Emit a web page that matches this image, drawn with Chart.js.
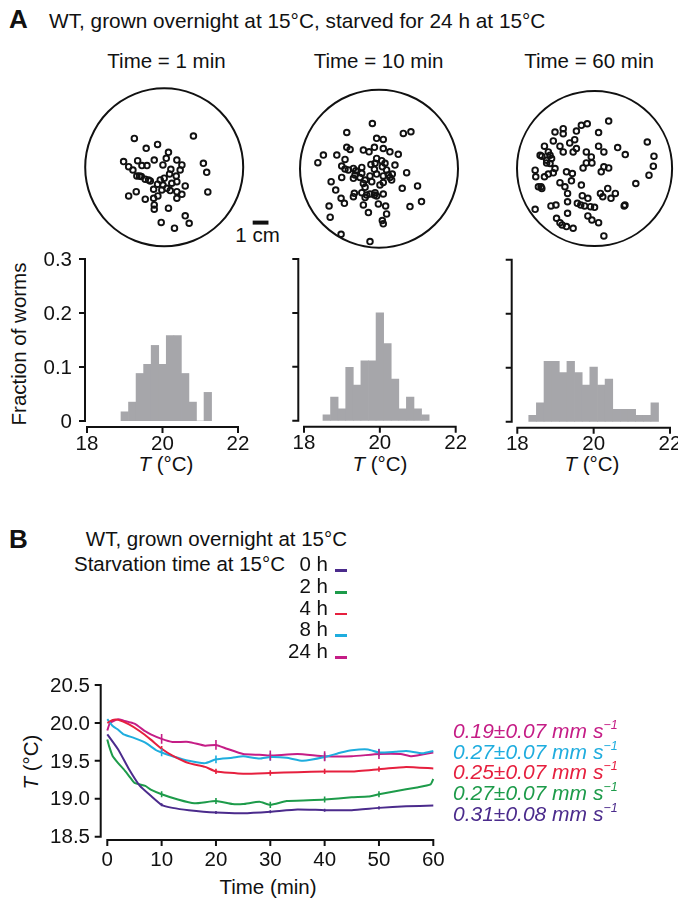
<!DOCTYPE html>
<html>
<head>
<meta charset="utf-8">
<script src="https://cdn.jsdelivr.net/npm/chart.js@4.4.1/dist/chart.umd.min.js"></script>
<style>
body { margin: 0; background: #fff; }
#page { position: relative; width: 678px; height: 901px; overflow: hidden;
        font-family: "Liberation Sans", Arial, Helvetica, sans-serif; color: #111; }
#page canvas { position: absolute; left: 0; top: 0; }
.t { position: absolute; font-size: 20.5px; line-height: 1; white-space: nowrap; }
.c { transform: translate(-50%, -50%); }
.r { transform: translate(-100%, -50%); }
.l { transform: translate(0, -50%); }
.big { font-size: 26px; font-weight: bold; }
.rot { transform: translate(-50%, -50%) rotate(-90deg); }
.sup { font-size: 12.5px; position: relative; top: -9px; }
</style>
</head>
<body>
<div id="page">
  <div class="t l big" style="left:9px;top:19px">A</div>
  <div class="t l" style="left:49px;top:21px;font-size:20.8px">WT, grown overnight at 15°C, starved for 24 h at 15°C</div>
  <div class="t c" style="left:166.5px;top:60.5px">Time = 1 min</div>
  <div class="t c" style="left:378.5px;top:60.5px">Time = 10 min</div>
  <div class="t c" style="left:589px;top:60.5px">Time = 60 min</div>
  <div class="t c" style="left:257.5px;top:234.5px">1 cm</div>
  <div class="t rot" style="left:19px;top:344px">Fraction of worms</div>
  <div class="t c" style="left:166px;top:464px"><i>T</i> (°C)</div>
  <div class="t c" style="left:380px;top:464px"><i>T</i> (°C)</div>
  <div class="t c" style="left:592px;top:464px"><i>T</i> (°C)</div>

  <div class="t l big" style="left:9px;top:538.5px">B</div>
  <div class="t r" style="left:347px;top:539px">WT, grown overnight at 15°C</div>
  <div class="t r" style="left:285px;top:564px">Starvation time at 15°C</div>
  <div class="t c" style="left:268px;top:887px">Time (min)</div>
  <div class="t rot" style="left:31px;top:762px"><i>T</i> (°C)</div>
</div>
<script>
const W = 678, H = 901;
const FONT = '"Liberation Sans", Arial, Helvetica, sans-serif';

// ---- panel A: worm positions on the plate (mm from plate centre) ----
const plateRadius = 50;
const scaleBarMm = 10;

const x1min = [-18.9,18.5,-11.4,-4.2,2.7,-25.7,-22.5,-19.8,-16.8,-14.1,-10.9,-6.3,-0.8,1.3,8.0,11.2,4.2,10.1,24.8,26.9,
  -17.3,-14.5,-12.0,-8.8,-2.5,0,3.4,7.6,4.8,8.0,13.3,-6.7,-1.5,3.8,8.0,11.2,27.6,-22.5,-17.7,-12.0,
  -6.7,-4.0,8.0,-6.3,-6.3,2.7,13.3,-1.9,6.5,15.8,-0.8,-4.2,1.7,-9.9,-15.6];
const y1min = [18.3,19.8,12.0,14.5,9.5,3.6,0.4,-1.7,4.2,1.1,1.1,4.6,1.5,5.7,4.6,1.5,-1.3,-1.7,2.5,-3.2,
  -5.5,-5.9,-7.6,-8.6,-8.0,-6.9,-4.2,-5.5,-10.1,-9.1,-11.8,-13.9,-14.3,-14.7,-15.4,-17.1,-15.6,-18.1,-15.4,-20.2,
  -19.6,-18.1,-19.6,-23.8,-26.5,-25.9,-30.7,-34.9,-38.5,-35.4,-11.2,-10.7,-13.3,-8.0,-5.5];

const x10min = [-4.2,-20.4,15.4,20.2,-1.5,2.7,-20.4,-18.3,-9.9,-6.3,-2.9,2.7,6.9,12.2,-35.2,-38.7,-26.7,-21.5,-1.5,1.7,
  -2.5,-5.1,-23.6,-21.5,-16.2,-14.7,-10.9,-2.9,2.1,4.8,10.1,17.5,-23.6,-16.2,-12.0,-8.8,-5.7,-1.5,2.7,6.9,
  8.4,-30.3,-9.9,-4.6,2.7,8.0,-27.4,-8.8,14.7,24.4,-15.6,-10.9,-5.7,-2.5,2.7,-24.0,-16.2,-8.8,-1.5,-31.6,
  -21.9,-9.9,-0.4,4.2,19.6,26.9,-6.7,4.8,-30.9,2.1,2.7,-24.0,-5.7,-2.9,-7.8,-15.2,-10.9,0.6,5.9,-19.4,3.8];
const y10min = [28.6,22.9,22.3,23.4,19.2,18.5,13.5,12.2,11.8,10.7,13.5,12.8,10.7,9.1,8.6,3.8,8.6,5.9,6.5,5.1,
  3.4,2.7,1.7,-0.2,0.2,-1.3,0.8,-0.4,1.3,-0.8,2.3,-2.5,-5.5,-6.1,-5.5,-7.2,-4.6,-3.4,-4.6,-5.5,
  -3.4,-8.2,-9.3,-8.2,-8.8,-7.2,-13.5,-11.8,-12.4,-10.9,-15.6,-15.2,-16.0,-15.2,-16.0,-18.7,-17.7,-18.3,-17.3,-23.6,
  -21.9,-22.9,-22.3,-23.6,-24.0,-20.8,-27.8,-28.6,-30.7,-32.8,-34.9,-41.5,-46.1,-16.6,-16.6,-4.0,-2.9,-10.3,-4.0,-0.8,3.4];

const x60min = [9.1,-8.5,-4.7,-25.5,-20.2,-20.2,-11.7,2.6,-26.6,-16.0,-12.8,-32.3,-22.3,-11.7,-20.2,-13.8,-5.3,2.6,14.9,6.0,
  19.8,34.0,38.3,37.9,35.1,-35.1,-29.8,-27.7,-30.9,-2.1,-5.3,-1.7,-7.4,6.0,9.1,4.3,-38.3,-37.9,-32.3,-29.8,
  -25.5,-26.6,-18.1,-14.3,-14.9,-22.3,-19.1,-8.5,-34.5,-34.0,-17.4,-7.9,-4.3,3.8,5.3,8.5,10.6,13.4,26.6,-17.4,
  -28.1,-24.9,-11.1,-8.9,-6.4,-2.6,0,-38.3,-17.4,-4.3,-1.7,2.6,-24.5,-22.3,-20.9,-18.1,-13.8,6.0,19.1,19.6,
  -30.9,-28.7,-34.0,-36.2,-28.7];
const y60min = [30.4,27.7,28.7,23.4,25.5,22.3,24.0,23.0,17.7,16.4,18.5,14.3,14.3,12.8,10.6,10.6,10.6,14.3,13.4,10.6,
  8.9,17.0,7.9,1.5,-4.3,8.5,10.6,6.4,3.6,7.4,3.6,3.6,0.4,1.1,0.4,-2.1,-1.1,-5.3,-5.3,-3.6,
  0,-2.8,-2.1,-3.2,-7.9,-9.1,-11.7,-10.6,-11.7,-12.8,-16.0,-17.4,-19.1,-16.0,-18.1,-12.8,-19.1,-16.0,-9.6,-21.3,
  -24.0,-23.4,-22.3,-23.4,-24.0,-24.5,-24.9,-26.2,-28.7,-30.4,-33.0,-34.7,-31.9,-34.7,-36.2,-37.2,-38.3,-43.2,-24.0,-23.4,
  5.3,3.2,7.9,-11.7,8.5];

// ---- panel A histograms: bin centres (°C, 0.2 wide) and fraction of worms ----
const bins1 = [19.0,19.2,19.4,19.6,19.8,20.0,20.2,20.4,20.6,20.8,21.0,21.2];
const frac1 = [0.017,0.035,0.088,0.105,0.14,0.105,0.158,0.158,0.088,0.035,0,0.053];
const bins10 = [18.6,18.8,19.0,19.2,19.4,19.6,19.8,20.0,20.2,20.4,20.6,20.8,21.0,21.2];
const frac10 = [0.011,0.044,0.022,0.099,0.066,0.111,0.111,0.2,0.143,0.077,0.022,0.044,0.022,0.011];
const bins60 = [18.4,18.6,18.8,19.0,19.2,19.4,19.6,19.8,20.0,20.2,20.4,20.6,20.8,21.0,21.2,21.4,21.6];
const frac60 = [0.012,0.035,0.112,0.112,0.091,0.112,0.091,0.068,0.101,0.068,0.079,0.023,0.023,0.023,0.012,0.012,0.035];
const histXTicks = [18, 20, 22];
const histYTicks = [0, 0.1, 0.2, 0.3];
const histYLabels = ['0', '0.1', '0.2', '0.3'];

// ---- panel B: mean temperature vs time for each starvation time ----
const t0h = [0,2,4,6,8,10,12,15,20,25,30,35,40,45,50,55,60];
const T0h = [19.85,19.65,19.39,19.17,19.04,18.92,18.88,18.85,18.82,18.81,18.83,18.86,18.85,18.85,18.88,18.90,18.91];
const t2h = [0,0.3,1,2,3,4,5,7,8,10,13,16,20,23,25,28,30,33,37,40,45,48,50,53,57,59.5,60];
const T2h = [19.78,19.7,19.56,19.47,19.39,19.30,19.21,19.17,19.12,19.06,18.99,18.94,18.97,18.93,18.93,18.96,18.92,18.97,18.98,18.99,19.02,19.03,19.06,19.10,19.15,19.19,19.26];
const t4h = [0,1,2,4,6,8,10,12,15,18,20,25,30,35,40,45,50,55,60];
const T4h = [20.0,20.04,20.04,19.98,19.89,19.78,19.66,19.57,19.47,19.42,19.36,19.33,19.34,19.35,19.36,19.36,19.39,19.42,19.40];
const t8h = [0,1,2,3,5,7,9,10,12,15,18,20,23,25,28,30,33,36,40,43,45,48,50,53,55,58,60];
const T8h = [20.05,19.96,19.91,19.85,19.80,19.74,19.64,19.61,19.56,19.50,19.47,19.52,19.54,19.56,19.53,19.55,19.54,19.50,19.55,19.61,19.64,19.65,19.61,19.62,19.63,19.60,19.63];
const t24h = [0,0.5,2,3,5,7,8,10,12,15,18,20,22,25,28,30,35,40,45,50,54,56,60];
const T24h = [19.9,20.0,20.05,20.03,19.99,19.89,19.85,19.79,19.75,19.75,19.70,19.71,19.66,19.59,19.58,19.57,19.59,19.56,19.56,19.59,19.59,19.56,19.61];

const starvLabels = ['0 h', '2 h', '4 h', '8 h', '24 h'];
const speedLabels = ['0.31±0.08', '0.27±0.07', '0.25±0.07', '0.27±0.07', '0.19±0.07'];
const lineColors = ['#4b2b8c', '#1d9b4a', '#e6203e', '#1fadde', '#c51d86'];
const errTimes = [10, 20, 30, 40, 50];
const errHalf = [0.02, 0.04, 0.035, 0.05, 0.065];
const bXTicks = [0, 10, 20, 30, 40, 50, 60];
const bYTicks = [18.5, 19.0, 19.5, 20.0, 20.5];
const bYLabels = ['18.5', '19.0', '19.5', '20.0', '20.5'];

// ---------------------------------------------------------------
const page = document.getElementById('page');

function addCanvas() {
  const c = document.createElement('canvas');
  c.width = W; c.height = H;
  page.appendChild(c);
  return c;
}

// chart area given as page pixels -> layout padding
function padFor(l, t, r, b) {
  return { left: l, top: t, right: W - r, bottom: H - b };
}

function addText(html, x, y, cls, style) {
  const d = document.createElement('div');
  d.className = 't ' + cls;
  d.style.left = x + 'px';
  d.style.top = y + 'px';
  if (style) Object.assign(d.style, style);
  d.innerHTML = html;
  page.appendChild(d);
}

// detached axes, drawn from the chart's own scales
const gapAxes = {
  id: 'gapAxes',
  afterDraw(chart, args, o) {
    const { ctx, chartArea: a, scales: { x, y } } = chart;
    ctx.save();
    ctx.strokeStyle = '#111';
    ctx.fillStyle = '#111';
    ctx.lineWidth = 2;
    ctx.font = '20.5px ' + FONT;

    const ax = a.left - o.yGap;
    const yTop = y.getPixelForValue(o.yTicks[o.yTicks.length - 1]);
    const yBot = y.getPixelForValue(o.yTicks[0]);
    ctx.beginPath();
    ctx.moveTo(ax, yTop - 1);
    ctx.lineTo(ax, yBot + 1);
    o.yTicks.forEach(v => {
      const p = y.getPixelForValue(v);
      ctx.moveTo(ax, p);
      ctx.lineTo(ax - 6, p);
    });
    ctx.stroke();
    if (o.yLabels) {
      ctx.textAlign = 'right';
      ctx.textBaseline = 'middle';
      o.yTicks.forEach((v, i) => ctx.fillText(o.yLabels[i], ax - o.yLabelGap, y.getPixelForValue(v) + 1));
    }

    const ay = a.bottom + o.xGap;
    const xL = x.getPixelForValue(o.xTicks[0]);
    const xR = x.getPixelForValue(o.xTicks[o.xTicks.length - 1]);
    ctx.beginPath();
    ctx.moveTo(xL - 1, ay);
    ctx.lineTo(xR + 1, ay);
    o.xTicks.forEach(v => {
      const p = x.getPixelForValue(v);
      ctx.moveTo(p, ay);
      ctx.lineTo(p, ay + 6);
    });
    ctx.stroke();
    ctx.textAlign = 'center';
    ctx.textBaseline = 'middle';
    o.xTicks.forEach(v => ctx.fillText(String(v), x.getPixelForValue(v), ay + o.xLabelGap));
    ctx.restore();
  }
};

// plate outline and scale bar
const platePlugin = {
  id: 'plate',
  beforeDatasetsDraw(chart, args, o) {
    const { ctx, scales: { x, y } } = chart;
    const cx = x.getPixelForValue(0), cy = y.getPixelForValue(0);
    const r = x.getPixelForValue(o.radius) - cx;
    ctx.save();
    ctx.strokeStyle = '#111';
    ctx.lineWidth = 2;
    ctx.beginPath();
    ctx.arc(cx, cy, r, 0, Math.PI * 2);
    ctx.stroke();
    if (o.bar) {
      ctx.lineWidth = 4;
      ctx.beginPath();
      ctx.moveTo(x.getPixelForValue(o.bar.x), y.getPixelForValue(o.bar.y));
      ctx.lineTo(x.getPixelForValue(o.bar.x + o.bar.len), y.getPixelForValue(o.bar.y));
      ctx.stroke();
    }
    ctx.restore();
  }
};

// error bars at fixed times
const errPlugin = {
  id: 'errBars',
  afterDatasetsDraw(chart, args, o) {
    const { ctx, scales: { x, y } } = chart;
    ctx.save();
    ctx.lineWidth = 1.6;
    chart.data.datasets.forEach((ds, i) => {
      ctx.strokeStyle = ds.borderColor;
      ctx.beginPath();
      o.times.forEach(t => {
        const pt = ds.data.find(d => d.x === t);
        if (!pt) return;
        const px = x.getPixelForValue(t);
        ctx.moveTo(px, y.getPixelForValue(pt.y + o.half[i]));
        ctx.lineTo(px, y.getPixelForValue(pt.y - o.half[i]));
      });
      ctx.stroke();
    });
    ctx.restore();
  }
};

const common = {
  responsive: false,
  animation: false,
  events: [],
};

// ---- plates ----
const plates = [
  { xs: x1min, ys: y1min, cx: 164.2, cy: 167.3, r: 79, bar: { x: 56, y: -35, len: scaleBarMm } },
  { xs: x10min, ys: y10min, cx: 379, cy: 168.7, r: 79, bar: null },
  { xs: x60min, ys: y60min, cx: 595, cy: 168.5, r: 78, bar: null },
];
plates.forEach(p => {
  new Chart(addCanvas(), {
    type: 'scatter',
    data: {
      datasets: [{
        data: p.xs.map((v, i) => ({ x: v, y: p.ys[i] })),
        pointRadius: 2.8,
        borderWidth: 1.9,
        borderColor: '#111',
        backgroundColor: 'rgba(0,0,0,0)',
      }]
    },
    options: {
      ...common,
      clip: false,
      layout: { padding: padFor(p.cx - p.r, p.cy - p.r, p.cx + p.r, p.cy + p.r) },
      scales: {
        x: { display: false, min: -plateRadius, max: plateRadius },
        y: { display: false, min: -plateRadius, max: plateRadius },
      },
      plugins: {
        legend: { display: false },
        tooltip: { enabled: false },
        plate: { radius: plateRadius, bar: p.bar },
      }
    },
    plugins: [platePlugin]
  });
});

// ---- histograms ----
const hists = [
  { bins: bins1, frac: frac1, area: [87, 259, 238, 421], yGap: 2, labels: histYLabels },
  { bins: bins10, frac: frac10, area: [304, 259, 455.7, 420.7], yGap: 5.7, labels: null },
  { bins: bins60, frac: frac60, area: [517.3, 259.7, 670, 421.7], yGap: 5.6, labels: null },
];
hists.forEach(h => {
  new Chart(addCanvas(), {
    type: 'bar',
    data: {
      datasets: [{
        data: h.bins.map((b, i) => ({ x: b, y: h.frac[i] })),
        backgroundColor: '#a6a6aa',
        borderWidth: 0,
        barPercentage: 1,
        categoryPercentage: 1,
      }]
    },
    options: {
      ...common,
      layout: { padding: padFor(...h.area) },
      scales: {
        x: { type: 'linear', display: false, min: 18, max: 22, offset: false },
        y: { display: false, min: 0, max: 0.3 },
      },
      plugins: {
        legend: { display: false },
        tooltip: { enabled: false },
        gapAxes: {
          yGap: h.yGap, xGap: 6,
          yTicks: histYTicks, yLabels: h.labels, yLabelGap: 13,
          xTicks: histXTicks, xLabelGap: 17,
        }
      }
    },
    plugins: [gapAxes]
  });
});

// ---- panel B ----
const series = [[t0h, T0h], [t2h, T2h], [t4h, T4h], [t8h, T8h], [t24h, T24h]];
new Chart(addCanvas(), {
  type: 'line',
  data: {
    datasets: series.map(([ts, vs], i) => ({
      label: starvLabels[i],
      data: ts.map((t, k) => ({ x: t, y: vs[k] })),
      borderColor: lineColors[i],
      borderWidth: 2,
      pointRadius: 0,
      tension: 0.15,
      fill: false,
    }))
  },
  options: {
    ...common,
    clip: false,
    layout: { padding: padFor(107.3, 685, 433.3, 836.7) },
    scales: {
      x: { type: 'linear', display: false, min: 0, max: 60 },
      y: { display: false, min: 18.5, max: 20.5 },
    },
    plugins: {
      legend: { display: false },
      tooltip: { enabled: false },
      errBars: { times: errTimes, half: errHalf },
      gapAxes: {
        yGap: 6.6, xGap: 3.3,
        yTicks: bYTicks, yLabels: bYLabels, yLabelGap: 10.7,
        xTicks: bXTicks, xLabelGap: 20,
      }
    }
  },
  plugins: [errPlugin, gapAxes]
});

// legend rows and speed labels
const legendY = [564, 586, 607.5, 629, 651];
const speedY = [813, 792, 771, 751, 730];
starvLabels.forEach((lab, i) => {
  addText(lab, 328, legendY[i], 'r');
  const d = document.createElement('div');
  Object.assign(d.style, {
    position: 'absolute', left: '335px', top: (legendY[i] + 5) + 'px',
    width: '12px', height: '2.5px', background: lineColors[i]
  });
  page.appendChild(d);
  addText('<i>' + speedLabels[i] + ' mm s<span class="sup">−1</span></i>', 453, speedY[i], 'l',
          { color: lineColors[i], fontSize: '21px' });
});
</script>
</body>
</html>
